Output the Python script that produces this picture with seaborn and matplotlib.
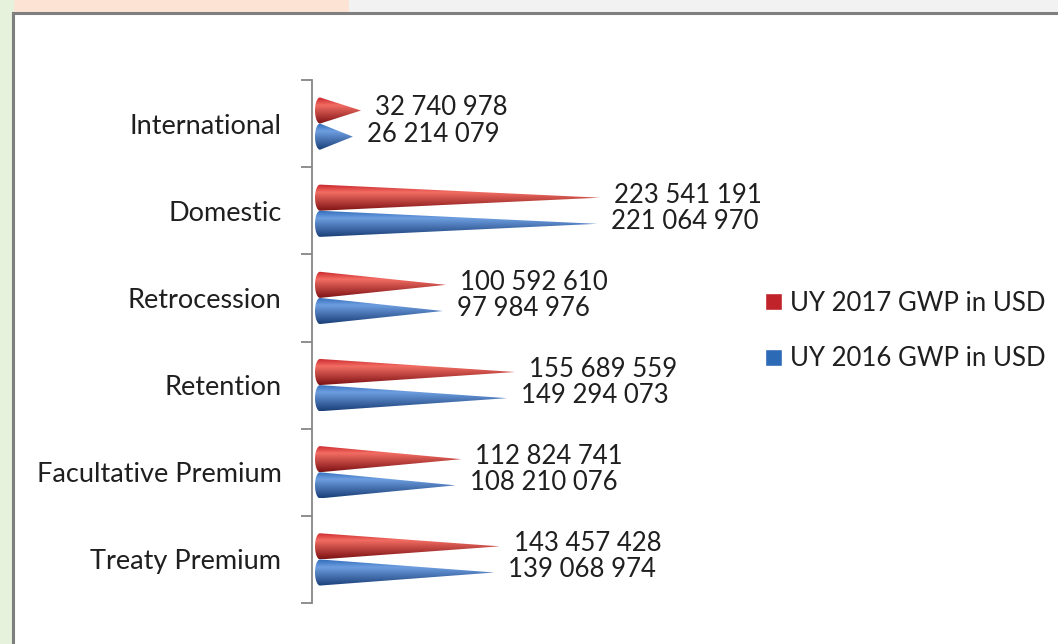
import numpy as np
import pandas as pd
import seaborn as sns
import matplotlib.pyplot as plt
from matplotlib.patches import Rectangle, Patch
from matplotlib.path import Path
from matplotlib.colors import to_rgb

categories = ["International", "Domestic", "Retrocession", "Retention",
              "Facultative Premium", "Treaty Premium"]
gwp_2017 = [32740978, 223541191, 100592610, 155689559, 112824741, 143457428]
gwp_2016 = [26214079, 221064970, 97984976, 149294073, 108210076, 139068974]
series_names = ["UY 2017 GWP in USD", "UY 2016 GWP in USD"]

df = pd.DataFrame({
    "category": categories * 2,
    "value": gwp_2017 + gwp_2016,
    "series": [series_names[0]] * 6 + [series_names[1]] * 6,
})

# light / mid / dark for the cone shading
shades = {
    series_names[0]: ["#f26d63", "#c8242a", "#7e1214"],
    series_names[1]: ["#6e9ee0", "#2f6cba", "#1a3f78"],
}
base_col = {series_names[0]: "#c0232a", series_names[1]: "#2d6ab6"}

sns.set_style("white")
plt.rcParams["font.family"] = ["Lato", "DejaVu Sans"]

fig = plt.figure(figsize=(10.58, 6.44), dpi=100)
# decorative slide background
fig.patches.append(Rectangle((0, 0.95), 0.33, 0.05, transform=fig.transFigure,
                             color="#fce3d3", zorder=-5))
fig.patches.append(Rectangle((0.33, 0.95), 0.67, 0.05, transform=fig.transFigure,
                             color="#f2f2f2", zorder=-5))
fig.patches.append(Rectangle((0, 0), 0.012, 1, transform=fig.transFigure,
                             color="#e6f2dc", zorder=-5))
fig.patches.append(Rectangle((0.0125, -0.1), 1.1, 1.08, transform=fig.transFigure,
                             facecolor="white", edgecolor="#7f7f7f", lw=2.2, zorder=-4))

ax = fig.add_axes([312 / 1058, 41 / 644, 430 / 1058, 523 / 644])
ax.patch.set_alpha(0)
sns.barplot(data=df, y="category", x="value", hue="series", orient="h",
            width=0.6, palette=base_col, ax=ax, legend=False)

px_per_unit = 1.253e-6  # pixels per USD
x_left = -8 / px_per_unit
e = 5 / px_per_unit  # rounded base half-width

for bar in list(ax.patches):
    v = bar.get_width()
    y0 = bar.get_y()
    h = bar.get_height()
    yc = y0 + h / 2
    fc = bar.get_facecolor()
    ser = min(base_col, key=lambda k: np.sum(np.abs(np.array(to_rgb(base_col[k])) - np.array(fc[:3]))))
    bar.set_visible(False)
    light, mid, dark = [np.array(to_rgb(c)) for c in shades[ser]]
    t = np.linspace(0, 1, 60)
    rows = []
    for s in t:
        if s < 0.3:
            c = mid + (light - mid) * (s / 0.3)
        else:
            c = light + (dark - light) * ((s - 0.3) / 0.7)
        rows.append(c)
    img = np.array(rows)[:, None, :]
    ang = np.linspace(np.pi / 2, 3 * np.pi / 2, 20)
    verts = [(e * np.cos(a), yc - (h / 2) * np.sin(a)) for a in ang]
    verts.append((v, yc))
    verts.append(verts[0])
    im = ax.imshow(img, extent=(-e, v, yc + h / 2, yc - h / 2), aspect="auto",
                   interpolation="bilinear", zorder=2)
    im.set_clip_path(Path(verts), transform=ax.transData)
    ax.text(v + 14 / px_per_unit, yc - 0.03, f"{int(v):,}".replace(",", " "),
            va="center", ha="left", fontsize=18.5, color="#1f1f1f", zorder=3)

ax.set_xlim(x_left, x_left + 430 / px_per_unit)
ax.set_ylim(5.5, -0.5)
ax.set_xlabel("")
ax.set_ylabel("")
ax.set_xticks([])
ax.set_yticks(range(len(categories)))
ax.set_yticklabels(categories, fontsize=19.5, color="#1f1f1f")
ax.set_yticks(np.arange(-0.5, 6, 1), minor=True)
ax.tick_params(axis="y", which="major", left=False, length=0, pad=22)
ax.tick_params(axis="y", which="minor", left=True, length=8, width=1.3,
               color="#868686", direction="out")
for side in ["top", "right", "bottom"]:
    ax.spines[side].set_visible(False)
ax.spines["left"].set_color("#868686")
ax.spines["left"].set_linewidth(1.3)

handles = [Patch(facecolor=base_col[s], label=s) for s in series_names]
fig.legend(handles=handles, loc="center left", bbox_to_anchor=(742 / 1058, 1 - 331 / 644),
           frameon=False, fontsize=18.5, handlelength=0.65, handleheight=0.65,
           handletextpad=0.3, labelspacing=1.2, labelcolor="#1f1f1f")

fig.savefig("out.png", dpi=100)
